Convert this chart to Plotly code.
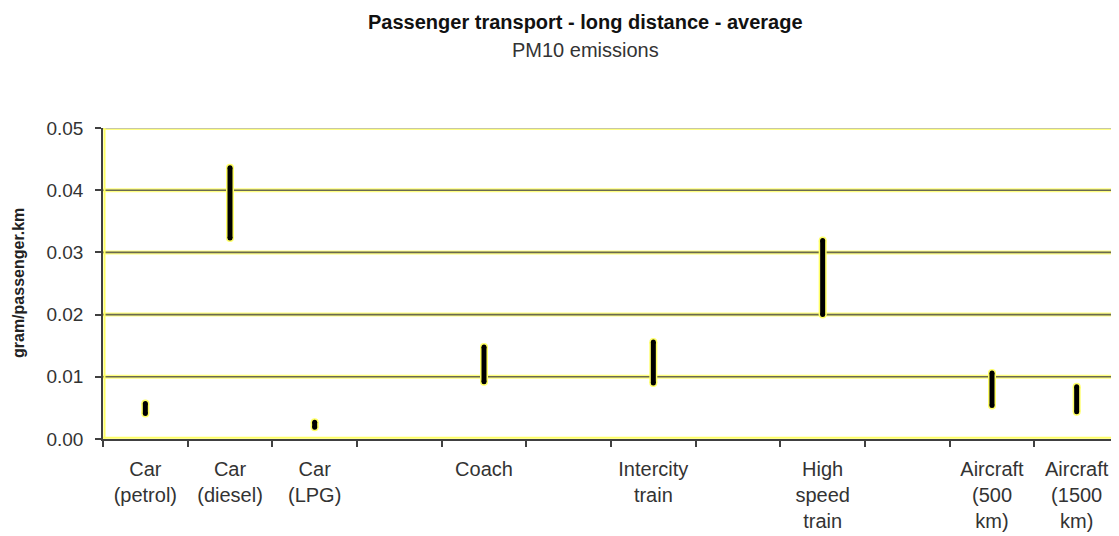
import plotly.graph_objects as go

# ---- data ----
categories = ["Car<br>(petrol)", "Car<br>(diesel)", "Car<br>(LPG)", "", "Coach", "",
              "Intercity<br>train", "", "High<br>speed<br>train", "",
              "Aircraft<br>(500<br>km)", "Aircraft<br>(1500<br>km)"]
low_values = [0.0041, 0.0323, 0.0019, None, 0.0092, None, 0.0090, None, 0.0200, None, 0.0054, 0.0044]
high_values = [0.0057, 0.0436, 0.0027, None, 0.0148, None, 0.0156, None, 0.0319, None, 0.0106, 0.0084]
y_ticks = [0.0, 0.01, 0.02, 0.03, 0.04, 0.05]

title_text = "Passenger transport - long distance - average"
subtitle_text = "PM10 emissions"
y_title = "gram/passenger.km"

FONT = "Liberation Sans, Arial, sans-serif"
n = len(categories)
centers = [i + 0.5 for i in range(n)]

# build range segments (None separators)
seg_x, seg_y = [], []
for c, lo, hi in zip(centers, low_values, high_values):
    if lo is None or hi is None:
        continue
    seg_x += [c, c, None]
    seg_y += [lo, hi, None]

fig = go.Figure()
# yellow halo
fig.add_trace(go.Scatter(x=seg_x, y=seg_y, mode="lines+markers",
                         line=dict(color="#ffff66", width=8),
                         marker=dict(color="#ffff66", size=8, symbol="circle"),
                         hoverinfo="skip", showlegend=False))
# black range line
fig.add_trace(go.Scatter(x=seg_x, y=seg_y, mode="lines+markers",
                         line=dict(color="#000000", width=5),
                         marker=dict(color="#000000", size=5, symbol="circle"),
                         showlegend=False))

# gridlines with yellow halo (styles only)
shapes = []
for v in y_ticks[1:]:
    shapes.append(dict(type="line", xref="paper", yref="y", x0=0, x1=1, y0=v, y1=v,
                       line=dict(color="#ffff80", width=4), layer="below"))
for v in y_ticks[1:]:
    col = "#b4b4b4" if v == y_ticks[-1] else "#6a6a50"
    shapes.append(dict(type="line", xref="paper", yref="y", x0=0, x1=1, y0=v, y1=v,
                       line=dict(color=col, width=1.6), layer="below"))
# yellow inner border left & bottom
shapes.append(dict(type="line", xref="paper", yref="paper", x0=0.0015, x1=0.0015, y0=0, y1=1,
                   line=dict(color="#ffff66", width=2), layer="below"))
shapes.append(dict(type="line", xref="paper", yref="paper", x0=0, x1=1, y0=0.004, y1=0.004,
                   line=dict(color="#ffff66", width=2), layer="below"))

# page body has an 8px default margin -> figure is 8px smaller and offset
fig.update_layout(
    width=1111, height=528,
    margin=dict(l=95, r=0, t=120, b=97),
    paper_bgcolor="white", plot_bgcolor="white",
    font=dict(family=FONT, size=19, color="#222222"),
    showlegend=False,
    shapes=shapes,
    xaxis=dict(range=[0, n], tickmode="array", tickvals=centers, ticktext=categories,
               ticks="", showgrid=False, zeroline=False,
               showline=True, linecolor="#404040", linewidth=1.5,
               ticklabelstandoff=11,
               tickfont=dict(family=FONT, size=20, color="#333333"),
               minor=dict(ticks="outside", ticklen=6, tickcolor="#404040", tickwidth=1.5,
                          tick0=0, dtick=1, showgrid=False)),
    yaxis=dict(range=[0, 0.05], tickmode="array", tickvals=y_ticks, tickformat=".2f",
               ticks="outside", ticklen=6, tickcolor="#404040", tickwidth=1.5,
               showgrid=False, zeroline=False,
               showline=True, linecolor="#404040", linewidth=1.5,
               ticklabelstandoff=8,
               tickfont=dict(family=FONT, size=19, color="#333333")),
    annotations=[
        dict(text="<b>" + title_text + "</b>", xref="paper", yref="paper",
             x=(585 - 103) / 1016, y=(439 - 22) / 311, xanchor="center", yanchor="middle",
             showarrow=False, font=dict(family=FONT, size=20, color="#111111")),
        dict(text=subtitle_text, xref="paper", yref="paper",
             x=(585 - 103) / 1016, y=(439 - 50) / 311, xanchor="center", yanchor="middle",
             showarrow=False, font=dict(family=FONT, size=20, color="#333333")),
        dict(text="<b>" + y_title + "</b>", xref="paper", yref="paper",
             x=(18 - 103) / 1016, y=(439 - 283) / 311, xanchor="center", yanchor="middle",
             textangle=-90, showarrow=False, font=dict(family=FONT, size=16, color="#222222")),
    ],
)

fig.write_html("out.html")
